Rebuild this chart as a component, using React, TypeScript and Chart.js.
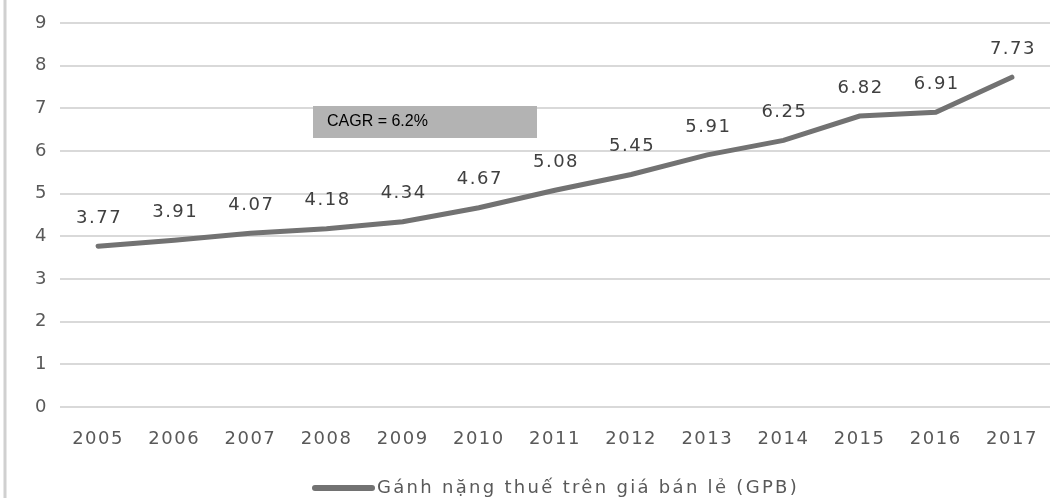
import React, { useEffect, useRef } from "react";
import { Chart, registerables } from "chart.js";

Chart.register(...registerables);

const years = ["2005", "2006", "2007", "2008", "2009", "2010", "2011", "2012", "2013", "2014", "2015", "2016", "2017"];
const gpb = [3.77, 3.91, 4.07, 4.18, 4.34, 4.67, 5.08, 5.45, 5.91, 6.25, 6.82, 6.91, 7.73];
const seriesLabel = "Gánh nặng thuế trên giá bán lẻ (GPB)";
const annotationText = "CAGR = 6.2%";

const FONT = "'DejaVu Sans', 'Open Sans', sans-serif";
const LINE_COLOR = "#727272";

const spacing = {
  id: "spacing",
  beforeDraw(chart: any) {
    chart.ctx.letterSpacing = "1.5px";
  },
};

const extras = {
  id: "extras",
  afterDatasetsDraw(chart: any) {
    const ctx = chart.ctx;
    const meta = chart.getDatasetMeta(0);
    ctx.save();
    ctx.letterSpacing = "1.5px";
    // data labels
    ctx.font = `18px ${FONT}`;
    ctx.fillStyle = "#404040";
    ctx.textAlign = "center";
    ctx.textBaseline = "middle";
    meta.data.forEach((pt: any, i: number) => {
      ctx.fillText(gpb[i].toFixed(2), pt.x + 1, pt.y - 28);
    });
    // CAGR box
    ctx.letterSpacing = "0px";
    ctx.fillStyle = "#b3b3b3";
    ctx.fillRect(313, 106, 224, 32);
    ctx.fillStyle = "#000000";
    ctx.font = "16px 'Liberation Sans', Arial, sans-serif";
    ctx.textAlign = "left";
    ctx.fillText(annotationText, 327, 122);
    // legend
    ctx.strokeStyle = LINE_COLOR;
    ctx.lineWidth = 6;
    ctx.lineCap = "round";
    ctx.beginPath();
    ctx.moveTo(315, 488);
    ctx.lineTo(372, 488);
    ctx.stroke();
    ctx.fillStyle = "#595959";
    ctx.font = `18px ${FONT}`;
    ctx.letterSpacing = "2.3px";
    ctx.textAlign = "left";
    ctx.fillText(seriesLabel, 377, 488);
    // left frame line
    ctx.strokeStyle = "#d0d0d0";
    ctx.lineWidth = 3;
    ctx.lineCap = "butt";
    ctx.beginPath();
    ctx.moveTo(5, 0);
    ctx.lineTo(5, 498);
    ctx.stroke();
    ctx.restore();
  },
};

export default function App() {
  const ref = useRef<HTMLCanvasElement>(null);
  useEffect(() => {
    if (!ref.current) return;
    const chart = new Chart(ref.current, {
      type: "line",
      data: {
        labels: years,
        datasets: [
          {
            label: seriesLabel,
            data: gpb,
            borderColor: LINE_COLOR,
            backgroundColor: LINE_COLOR,
            borderWidth: 5,
            pointRadius: 0,
            tension: 0,
            borderCapStyle: "round",
          },
        ],
      },
      options: {
        responsive: false,
        animation: false,
        layout: { padding: { top: 23, left: 24, right: 0, bottom: 0 } },
        plugins: { legend: { display: false }, tooltip: { enabled: false } },
        scales: {
          x: {
            offset: true,
            grid: { display: false, drawTicks: false },
            border: { display: false },
            ticks: { color: "#595959", font: { family: FONT, size: 18 }, padding: 22, maxRotation: 0 },
            afterFit(scale: any) {
              scale.height = 91;
              scale.paddingLeft = 0;
              scale.paddingRight = 0;
            },
          },
          y: {
            min: 0,
            max: 9,
            grid: { color: "#d9d9d9", lineWidth: 2, drawTicks: false },
            border: { display: false },
            ticks: { stepSize: 1, color: "#595959", font: { family: FONT, size: 18 }, padding: 12 },
            afterFit(scale: any) {
              scale.width = 36;
              scale.paddingTop = 0;
              scale.paddingBottom = 0;
            },
          },
        },
      },
      plugins: [spacing, extras],
    });
    return () => chart.destroy();
  }, []);
  return (
    <div style={{ position: "fixed", left: 0, top: 0, width: 1050, height: 498, background: "#fff" }}>
      <canvas ref={ref} width={1050} height={498} />
    </div>
  );
}
